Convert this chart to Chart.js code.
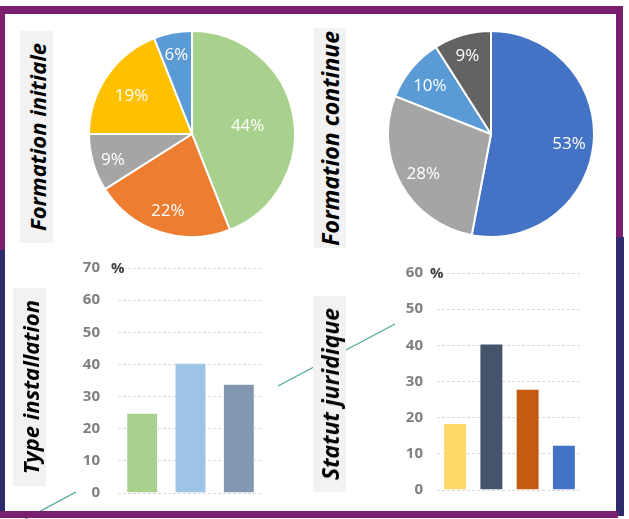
<!DOCTYPE html>
<html lang="fr">
<head>
<meta charset="utf-8">
<script src="https://cdn.jsdelivr.net/npm/chart.js@4.4.1/dist/chart.umd.min.js"></script>
<style>
  html, body { margin: 0; padding: 0; background: #fff; }
  body { width: 629px; height: 519px; position: relative; overflow: hidden; font-family: 'Open Sans', sans-serif; }
  .band { position: absolute; z-index: 3; }
  .purple { background: #7a1f6e; }
  .navy { background: #2f2a6b; }
  .tag { position: absolute; background: #f2f2f2; display: flex; align-items: center; justify-content: center; z-index: 2; }
  .tag span { writing-mode: vertical-rl; transform: rotate(180deg); font: italic 700 22px 'Open Sans', sans-serif; color: #000; white-space: nowrap; }
  canvas { position: absolute; }
  svg.links { position: absolute; left: 0; top: 0; z-index: 1; }
</style>
</head>
<body>

<!-- frame -->
<div class="band purple" style="left:0;top:6px;width:623px;height:8px"></div>
<div class="band purple" style="left:0;top:6px;width:5px;height:244px"></div>
<div class="band navy" style="left:0;top:250px;width:5px;height:262px"></div>
<div class="band purple" style="left:616px;top:6px;width:7px;height:231px"></div>
<div class="band navy" style="left:616px;top:237px;width:8px;height:279px"></div>
<div class="band purple" style="left:0;top:511px;width:618px;height:7px"></div>

<!-- connector strokes -->
<svg class="links" width="629" height="519">
  <line x1="76" y1="492" x2="20" y2="522" stroke="#4aa99a" stroke-width="1.3"/>
  <line x1="278" y1="386" x2="395" y2="324" stroke="#4aa99a" stroke-width="1.3"/>
</svg>

<div class="tag" style="left:20px;top:31px;width:33px;height:212px"><span>Formation initiale</span></div>
<div class="tag" style="left:314px;top:28px;width:32px;height:220px"><span style="font-size:23px">Formation continue</span></div>
<div class="tag" style="left:13px;top:288px;width:33px;height:198px"><span>Type installation</span></div>
<div class="tag" style="left:313px;top:296px;width:33px;height:196px"><span style="font-size:23px">Statut juridique</span></div>

<canvas id="pieInit" width="208" height="208" style="left:88px;top:30px"></canvas>
<canvas id="pieCont" width="208" height="208" style="left:387px;top:30px"></canvas>
<canvas id="barType" width="183" height="279" style="left:80px;top:241px"></canvas>
<canvas id="barStatut" width="182" height="263" style="left:400px;top:250px"></canvas>

<script>
// --- data ---
const initLabels = ['44%', '22%', '9%', '19%', '6%'];
const initValues = [44, 22, 9, 19, 6];
const initColors = ['#a9d18e', '#ed7d31', '#a5a5a5', '#ffc000', '#5b9bd5'];

const contLabels = ['53%', '28%', '10%', '9%'];
const contValues = [53, 28, 10, 9];
const contColors = ['#4472c4', '#a5a5a5', '#5b9bd5', '#636363'];

const typeLabels = ['Type 1', 'Type 2', 'Type 3'];
const typeValues = [25, 40.5, 34];
const typeColors = ['#a9d18e', '#9dc3e6', '#8497b0'];
const typeTicks = [0, 10, 20, 30, 40, 50, 60, 70];

const statutLabels = ['Statut 1', 'Statut 2', 'Statut 3', 'Statut 4'];
const statutValues = [18.5, 40.5, 28, 12.5];
const statutColors = ['#ffd966', '#44546a', '#c55a11', '#4472c4'];
const statutTicks = [0, 10, 20, 30, 40, 50, 60];

// --- plugins ---
// percentage text inside each slice
const sliceLabels = {
    id: 'sliceLabels',
    afterDatasetsDraw(chart, args, opts) {
        const ctx = chart.ctx;
        const meta = chart.getDatasetMeta(0);
        const values = chart.data.datasets[0].data;
        ctx.save();
        ctx.fillStyle = '#fff';
        ctx.font = '17px "Open Sans"';
        ctx.textAlign = 'center';
        ctx.textBaseline = 'middle';
        meta.data.forEach((arc, i) => {
            const mid = (arc.startAngle + arc.endAngle) / 2;
            const r = arc.outerRadius * (opts.radii ? opts.radii[i] : 0.76);
            // +3: digits sit above the em-box middle
            ctx.fillText(values[i] + '%', arc.x + Math.cos(mid) * r, arc.y + Math.sin(mid) * r + 3);
        });
        ctx.restore();
    }
};

// "%" unit written on the top gridline
const unitMark = {
    id: 'unitMark',
    afterDraw(chart) {
        const ctx = chart.ctx;
        const y = chart.scales.y;
        const top = y.getPixelForValue(y.max);
        const left = chart.chartArea.left;
        ctx.save();
        ctx.fillStyle = '#fff';
        ctx.fillRect(left - 8, top - 6, 15, 12);
        ctx.fillStyle = '#404040';
        ctx.font = 'bold 15px "Open Sans"';
        ctx.textAlign = 'left';
        ctx.textBaseline = 'middle';
        ctx.fillText('%', left - 7, top + 1);
        ctx.restore();
    }
};

const makePie = (id, labels, values, colors, radii) => new Chart(document.getElementById(id), {
    type: 'pie',
    data: {
        labels: labels,
        datasets: [{ data: values, backgroundColor: colors, borderColor: '#fff', borderWidth: 2 }]
    },
    options: {
        responsive: false,
        animation: false,
        layout: { padding: 0 },
        plugins: {
            legend: { display: false },
            tooltip: { enabled: false },
            sliceLabels: { radii: radii }
        }
    },
    plugins: [sliceLabels]
});

// the y scale reserves (half label height + tick padding) above and below the plot
const makeBars = (id, labels, values, colors, ticks, axisWidth, tickPad) => new Chart(document.getElementById(id), {
    type: 'bar',
    data: {
        labels: labels,
        datasets: [{
            data: values,
            backgroundColor: colors,
            borderColor: 'rgba(255,255,255,0.45)',
            borderWidth: 1,
            categoryPercentage: 1,
            barPercentage: 0.66
        }]
    },
    options: {
        responsive: false,
        animation: false,
        layout: { padding: 0 },
        plugins: { legend: { display: false }, tooltip: { enabled: false } },
        scales: {
            x: { display: false },
            y: {
                min: ticks[0],
                max: ticks[ticks.length - 1],
                afterBuildTicks: (scale) => { scale.ticks = ticks.map(v => ({ value: v })); },
                afterFit: (scale) => { scale.width = axisWidth; },
                grid: { color: '#d9d9d9', drawTicks: false, lineWidth: 1 },
                border: { display: false, dash: [3, 2] },
                ticks: {
                    color: '#7f7f7f',
                    padding: tickPad,
                    font: { family: 'Open Sans', size: 15, weight: 'bold' }
                }
            }
        }
    },
    plugins: [unitMark]
});

makePie('pieInit', initLabels, initValues, initColors, [0.55, 0.76, 0.8, 0.71, 0.81]);
makePie('pieCont', contLabels, contValues, contColors, [0.76, 0.75, 0.77, 0.82]);
makeBars('barType', typeLabels, typeValues, typeColors, typeTicks, 38, 18);
makeBars('barStatut', statutLabels, statutValues, statutColors, statutTicks, 37, 14);
</script>
</body>
</html>
